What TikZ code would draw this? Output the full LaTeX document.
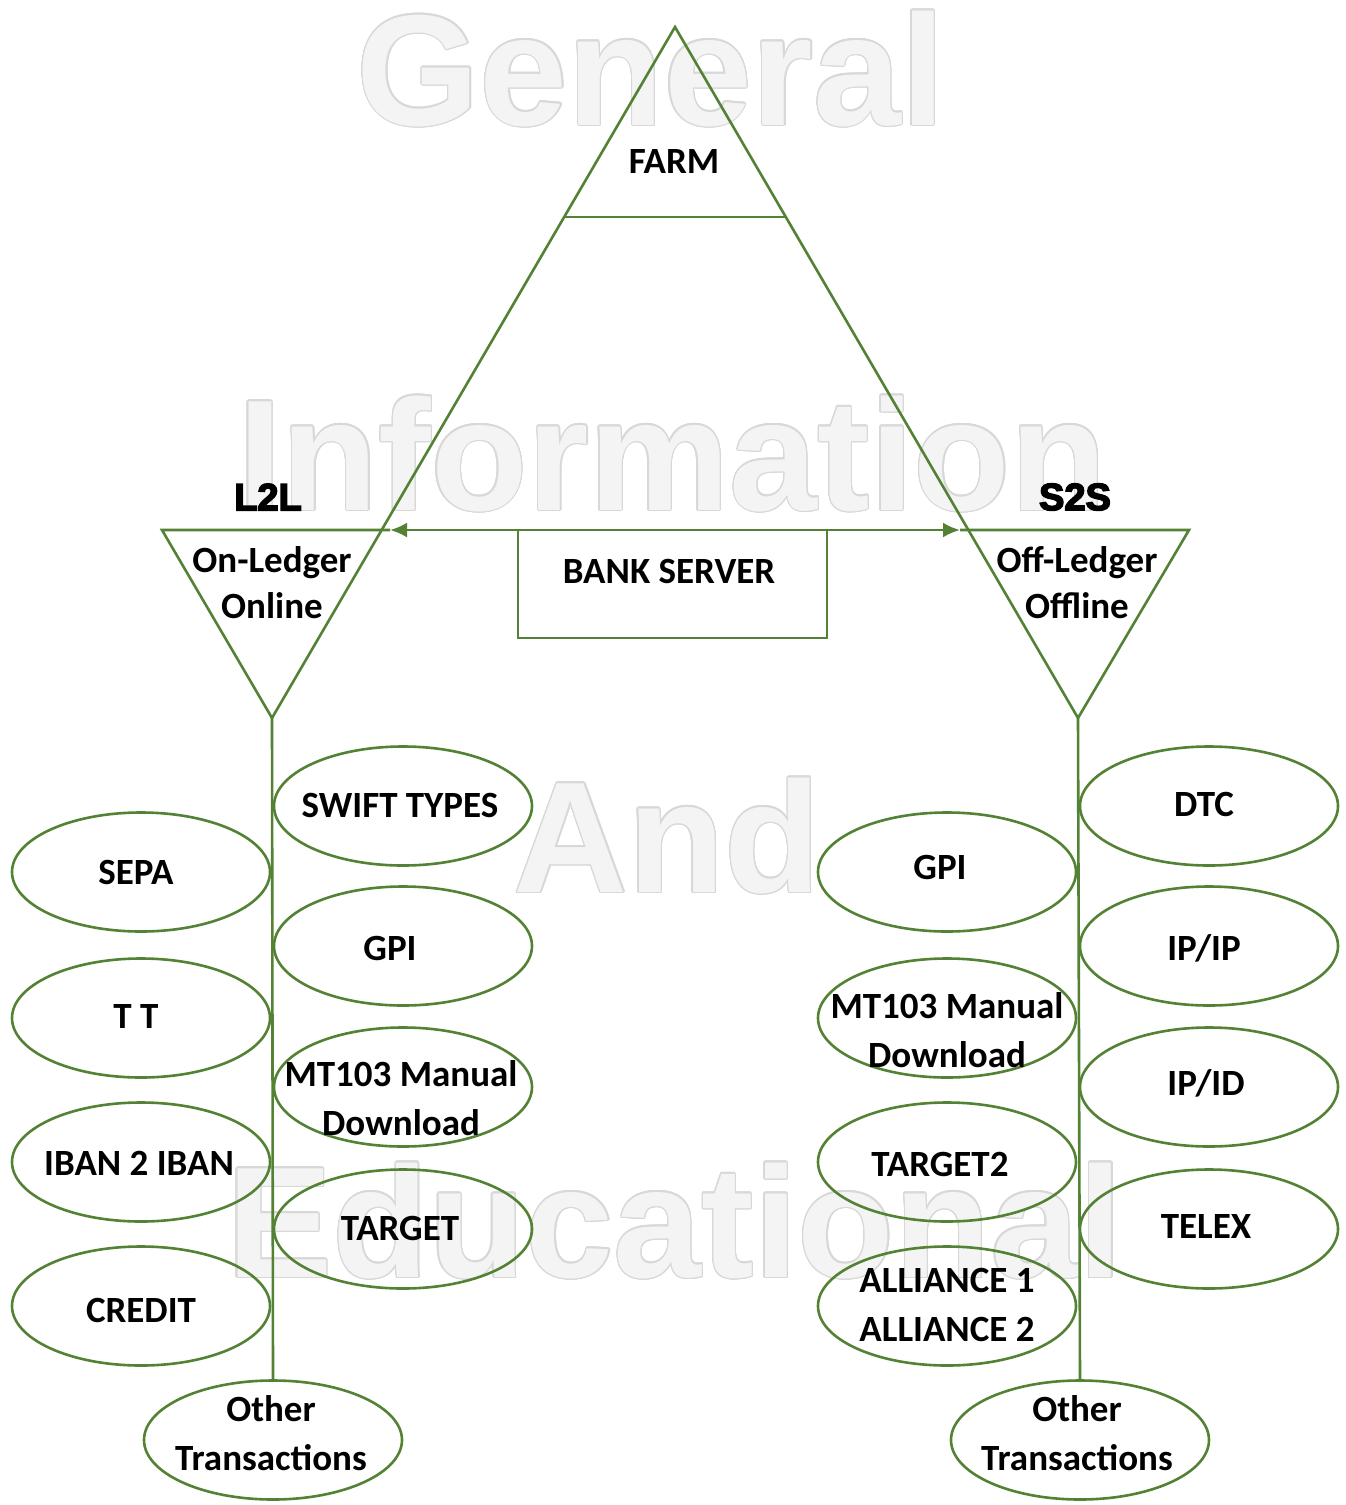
\documentclass[tikz,border=0pt]{standalone}
\usepackage{fontspec}
\setmainfont{Carlito}
\newfontfamily\wmfont{Liberation Sans}
\newfontfamily\hdfont[FakeBold=4]{Liberation Sans Bold}
\usepackage{contour}
\usetikzlibrary{shapes.geometric,arrows.meta,calc}
\definecolor{grn}{HTML}{548235}
\definecolor{wmfill}{HTML}{F4F4F4}
\definecolor{wmline}{HTML}{D8D8D8}
\contourlength{1.4pt}
\begin{document}
\begin{tikzpicture}[x=1pt,y=-1pt,
  ln/.style={draw=grn,line width=2.6pt},
  oval/.style={ellipse,draw=grn,line width=2.6pt,minimum width=258pt,minimum height=119pt,inner sep=0pt,outer sep=0pt},
  lbl/.style={font=\fontsize{37}{49}\selectfont\bfseries,align=center,inner sep=0pt,text=black},
  hdr/.style={font=\hdfont\fontsize{38}{44}\selectfont,inner sep=0pt,text=black},
  wm/.style={font=\wmfont\fontsize{158}{160}\selectfont\bfseries,inner sep=0pt,anchor=base,text=wmfill},
  arr/.style={ln,-{Latex[length=17pt,width=15pt]}}
]
\fill[white] (0,0) rectangle (1346,1505);
\useasboundingbox (0,0) rectangle (1346,1505);

% watermark
\node[wm] (wm1) at (651,125) {\contour{wmline}{General}};
\node[wm] (wm2) at (672.5,510) {\contour{wmline}{Information}};
\node[wm] (wm3) at (667.5,892) {\contour{wmline}{And}};
\node[wm] (wm4) at (675,1277) {\contour{wmline}{Educational}};

% big triangle
\coordinate (apex) at (675,27);
\coordinate (l2lB) at (272,718);
\coordinate (s2sB) at (1078,718);
\draw[ln] (l2lB) -- (apex) -- (s2sB);
\coordinate (fl) at ($(apex)!0.275!(l2lB)$);
\coordinate (fr) at ($(apex)!0.275!(s2sB)$);
\draw[ln] (fl) -- (fr);

% side triangles
\coordinate (l2lTL) at (162,530);
\coordinate (tipL) at (390,530);
\coordinate (s2sTR) at (1189,530);
\coordinate (tipR) at (960,530);
\draw[ln] (tipL) -- (l2lTL) -- (l2lB);
\draw[ln] (tipR) -- (s2sTR) -- (s2sB);

% bank server
\node[draw=grn,line width=2.6pt,minimum width=309pt,minimum height=108pt,inner sep=0pt,outer sep=0pt] (bank) at (672.5,584) {};
\draw[arr] (bank.north west) -- (tipL);
\draw[arr] (bank.north east) -- (tipR);

% ovals
\node[oval] (sepa) at (141,872) {};
\node[oval] (tt) at (141,1018) {};
\node[oval] (iban) at (141,1162) {};
\node[oval] (credit) at (141,1306) {};
\node[oval] (swift) at (403,806) {};
\node[oval] (gpiL) at (403,946) {};
\node[oval] (mtL) at (403,1087) {};
\node[oval] (target) at (403,1229) {};
\node[oval] (othL) at (273,1440) {};
\node[oval] (dtc) at (1209,806) {};
\node[oval] (ipip) at (1209,946) {};
\node[oval] (ipid) at (1209,1087) {};
\node[oval] (telex) at (1209,1229) {};
\node[oval] (gpiR) at (947,872) {};
\node[oval] (mtR) at (947,1018) {};
\node[oval] (target2) at (947,1162) {};
\node[oval] (alliance) at (947,1306) {};
\node[oval] (othR) at (1080,1440) {};

% stems
\draw[ln] (l2lB) -- (othL.north);
\draw[ln] (s2sB) -- (othR.north);

% labels
\node[lbl] (tFarm) at (674,161) {FARM};
\node[lbl] (tBank) at (669,571) {BANK SERVER};
\node[hdr] (tL2L) at (268,497) {L2L};
\node[hdr] (tS2S) at (1075,497) {S2S};
\node[lbl,font=\fontsize{37}{46}\selectfont\bfseries] (tOn) at (272,583) {On-Ledger\\Online};
\node[lbl,font=\fontsize{37}{46}\selectfont\bfseries] (tOff) at (1077,583) {Off-Ledger\\Offline};

\node[lbl] (tSepa) at (136,872) {SEPA};
\node[lbl] (tTT) at (136,1016) {T T};
\node[lbl] (tIban) at (139,1163) {IBAN 2 IBAN};
\node[lbl] (tCredit) at (141,1310) {CREDIT};
\node[lbl] (tSwift) at (400,805) {SWIFT TYPES};
\node[lbl] (tGpiL) at (390,948) {GPI};
\node[lbl] (tMtL) at (401,1098) {MT103 Manual\\Download};
\node[lbl] (tTarget) at (400,1228) {TARGET};
\node[lbl] (tOthL) at (271,1433) {Other\\Transactions};

\node[lbl] (tDtc) at (1204,804) {DTC};
\node[lbl] (tIpip) at (1204,948) {IP/IP};
\node[lbl] (tIpid) at (1206,1083) {IP/ID};
\node[lbl] (tTelex) at (1206,1226) {TELEX};
\node[lbl] (tGpiR) at (940,867) {GPI};
\node[lbl] (tMtR) at (947,1030) {MT103 Manual\\Download};
\node[lbl] (tTarget2) at (940,1164) {TARGET2};
\node[lbl] (tAll) at (947,1305) {ALLIANCE 1\\ALLIANCE 2};
\node[lbl] (tOthR) at (1077,1433) {Other\\Transactions};
\end{tikzpicture}
\end{document}
